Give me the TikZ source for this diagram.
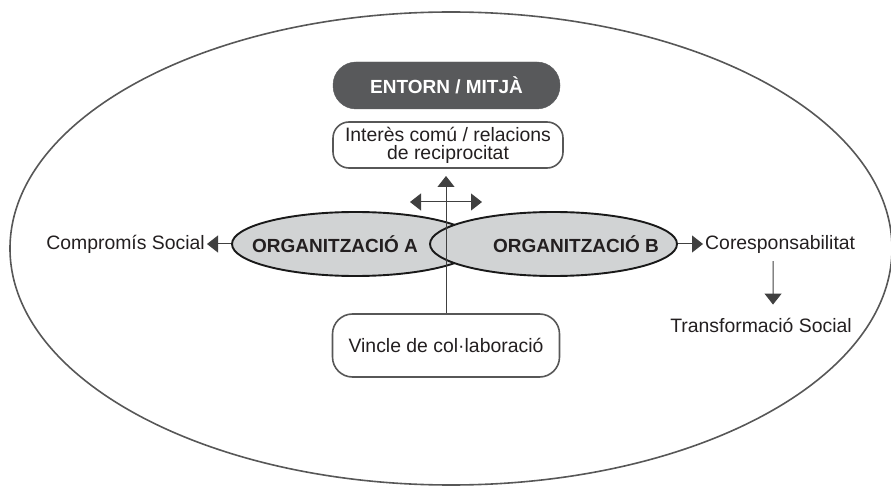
\documentclass[tikz,border=0pt]{standalone}
\usepackage{fontspec}
\setmainfont{Liberation Sans}
\usetikzlibrary{arrows.meta,shapes.geometric}

\definecolor{boxdark}{HTML}{58595B}
\definecolor{orgfill}{HTML}{D1D3D4}
\definecolor{linegray}{HTML}{575757}
\definecolor{inkgray}{HTML}{231F20}

\tikzset{
    roundbox/.style={draw=linegray, line width=1.6pt, fill=white, rounded corners=16pt,
        minimum width=230pt, align=center, inner sep=0pt},
    darkbox/.style={draw=boxdark, fill=boxdark, text=white, rounded corners=23pt,
        minimum width=227pt, minimum height=47pt, font=\fontsize{19}{18}\selectfont\bfseries},
    orgellipse/.style={ellipse, draw=black!90, line width=1.9pt, fill=orgfill,
        minimum width=247pt, minimum height=64pt, inner sep=0pt},
    orglabel/.style={inner sep=0pt, font=\fontsize{19}{18}\selectfont\bfseries},
    plainlabel/.style={inner sep=2pt},
    conn/.style={draw=black!75, line width=1pt}
}

\begin{document}
\begin{tikzpicture}[x=1pt, y=-1pt, >={Triangle[length=11pt, width=17pt]},
        font=\fontsize{19.4}{18}\selectfont, text=inkgray]
            \useasboundingbox (0,0) rectangle (891,486);
            \clip (0,0) rectangle (891,486);

            % outer ellipse
            \draw[linegray, line width=1.6pt] (451,248.5) ellipse (441pt and 236.5pt);

            \node[darkbox] (entorn) at (446.5,85.5) {ENTORN / MITJÀ};
            \node[roundbox, minimum height=46pt] (interes) at (448,145)
                {Interès comú / relacions\\de reciprocitat};
            \node[roundbox, minimum width=227pt, minimum height=63pt, rounded corners=20pt]
                (vincle) at (446,345.5) {Vincle de col·laboració};

            \node[orgellipse] (orgA) at (355.5,244) {};
            \node[orgellipse] (orgB) at (553.5,244) {};
            \node[orglabel] (labelA) at (335,244) {ORGANITZACIÓ A};
            \node[orglabel] (labelB) at (576,244) {ORGANITZACIÓ B};

            \node[plainlabel, anchor=east] (compromis) at (207,244) {Compromís Social};
            \node[plainlabel, anchor=west] (cores) at (703,244) {Coresponsabilitat};
            \node[plainlabel] (transf) at (761,325) {Transformació Social};

            \coordinate (upTip) at (446,176);
            \coordinate (leftTip) at (410,202);
            \coordinate (rightTip) at (482,202);

            \draw[conn, ->] (vincle.north) -- (upTip);
            \draw[conn, <->] (leftTip) -- (rightTip);

            \draw[conn, ->] (orgA.west) -- (compromis.east);
            \draw[conn, ->] (orgB.east) -- (cores.west);
            \draw[conn, ->] ([xshift=-7pt, yshift=-6pt]cores.south) -- ([xshift=12pt, yshift=11pt]transf.north);
        \end{tikzpicture}
\end{document}
